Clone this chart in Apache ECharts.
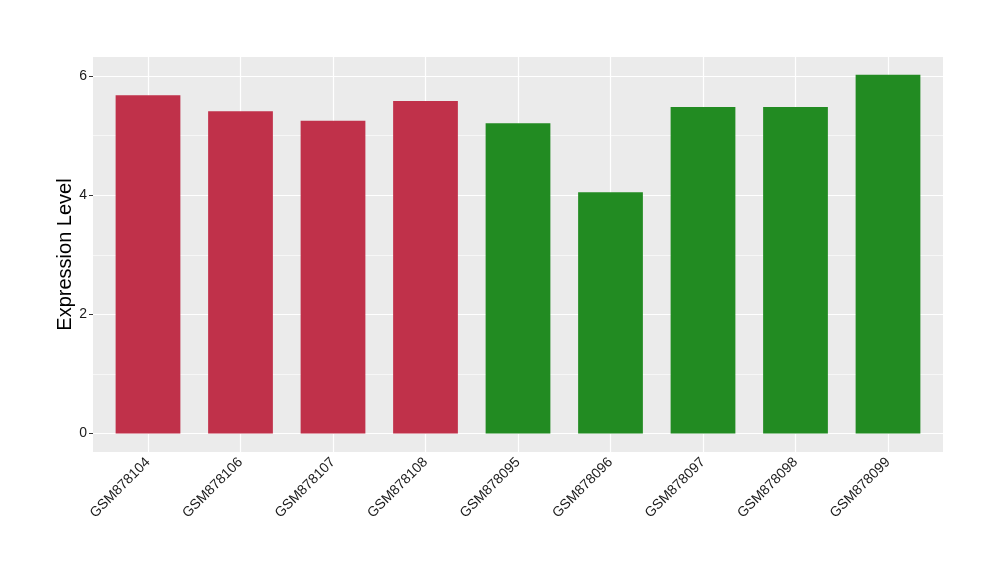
<!DOCTYPE html>
<html><head><meta charset="utf-8">
<script src="https://cdn.jsdelivr.net/npm/echarts@6/dist/echarts.min.js"></script>
<style>html,body{margin:0;padding:0;background:#fff}#c{width:1000px;height:580px}</style>
</head><body><div id="c"></div>
<script>
const categories = ['GSM878104','GSM878106','GSM878107','GSM878108','GSM878095','GSM878096','GSM878097','GSM878098','GSM878099'];
const values = [5.68, 5.41, 5.25, 5.58, 5.21, 4.05, 5.48, 5.48, 6.02];
const groups = ['A','A','A','A','B','B','B','B','B'];
const yTicks = [0, 2, 4, 6];
const yMinor = [1, 3, 5];

const groupColor = {A: '#C0314A', B: '#228B22'};
const chart = echarts.init(document.getElementById('c'), null, {renderer: 'canvas'});
const font = 'Liberation Sans, Arial, sans-serif';
const hMarks = [], vMarks = [];
yTicks.forEach(v => hMarks.push({yAxis: v, lineStyle: {color: '#fff', width: 1.2, type: 'solid'}}));
yMinor.forEach(v => hMarks.push({yAxis: v, lineStyle: {color: '#fff', width: 0.6, type: 'solid'}}));
categories.forEach(c => vMarks.push({xAxis: c, lineStyle: {color: '#fff', width: 1.2, type: 'solid'}}));

const yMin = -0.31, yMax = 6.32;

chart.setOption({
  animation: false,
  grid: [
    {left: 93, right: 57, top: 57, bottom: 128, show: true, backgroundColor: '#EBEBEB', borderWidth: 0},
    {left: 101.75, right: 65.75, top: 57, bottom: 128, show: false}
  ],
  xAxis: [
    {type: 'value', gridIndex: 0, min: 0, max: 1, show: false},
    {
      type: 'category', gridIndex: 1, data: categories,
      axisLine: {show: false},
      axisTick: {show: true, alignWithLabel: true, length: 4, lineStyle: {color: '#333', width: 1}},
      axisLabel: {rotate: 45, color: '#1a1a1a', fontSize: 14, fontFamily: font, margin: 8},
      splitLine: {show: false}
    }
  ],
  yAxis: [
    {
      type: 'value', gridIndex: 0, min: yMin, max: yMax,
      name: 'Expression Level', nameLocation: 'middle', nameGap: 18, nameRotate: 90,
      nameMoveOverlap: false,
      nameTextStyle: {fontSize: 20, color: '#000', fontFamily: font},
      axisLine: {show: false},
      axisTick: {show: true, length: 4, customValues: yTicks, lineStyle: {color: '#333', width: 1}},
      axisLabel: {customValues: yTicks, color: '#1a1a1a', fontSize: 14, fontFamily: font, margin: 6},
      splitLine: {show: false}
    },
    {type: 'value', gridIndex: 1, min: yMin, max: yMax, show: false, splitLine: {show: false}}
  ],
  series: [
    {
      type: 'line', xAxisIndex: 0, yAxisIndex: 0, data: [], z: 1, silent: true, symbol: 'none',
      markLine: {silent: true, z: 1, symbol: 'none', label: {show: false}, animation: false, data: hMarks}
    },
    {
      type: 'line', xAxisIndex: 1, yAxisIndex: 1, data: [], z: 1, silent: true, symbol: 'none',
      markLine: {silent: true, z: 1, symbol: 'none', label: {show: false}, animation: false, data: vMarks}
    },
    {
      type: 'bar', xAxisIndex: 1, yAxisIndex: 1, z: 3, barWidth: '70%',
      data: values.map((v, i) => ({value: v, itemStyle: {color: groupColor[groups[i]]}}))
    }
  ]
});
</script></body></html>
